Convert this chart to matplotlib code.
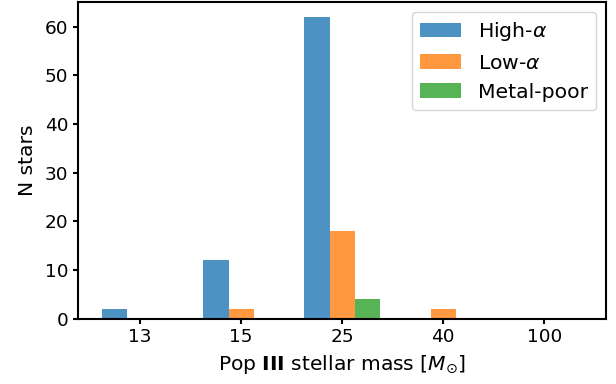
import matplotlib
matplotlib.use("Agg")
import matplotlib.pyplot as plt
import numpy as np

# Pop III progenitor masses and star counts per population
masses = ["13", "15", "25", "40", "100"]
high_alpha = [2, 12, 62, 0, 0]
low_alpha = [0, 2, 18, 2, 0]
metal_poor = [0, 0, 4, 0, 0]

plt.rcParams['axes.linewidth'] = 1.5
plt.rcParams['xtick.major.width'] = 1.5
plt.rcParams['ytick.major.width'] = 1.5

fig, ax = plt.subplots(figsize=(6.16, 3.84), dpi=100)

x = np.arange(len(masses))
w = 0.25
ax.bar(x - w, high_alpha, w, color='tab:blue', alpha=0.8, label=r'High-$\alpha$')
ax.bar(x, low_alpha, w, color='tab:orange', alpha=0.8, label=r'Low-$\alpha$')
ax.bar(x + w, metal_poor, w, color='tab:green', alpha=0.8, label='Metal-poor')

ax.set_xticks(x)
ax.set_xticklabels(masses)
ax.tick_params(labelsize=13.3)
ax.set_xlabel(r'Pop $\mathbf{III}$ stellar mass [$M_{\odot}$]', fontsize=14.6, labelpad=5)
ax.set_ylabel('N stars', fontsize=14.6, labelpad=6)
ax.legend(loc='upper right', fontsize=14.7)

fig.subplots_adjust(left=0.127, right=0.984, bottom=0.17, top=0.995)
fig.savefig('out.png', dpi=100)
